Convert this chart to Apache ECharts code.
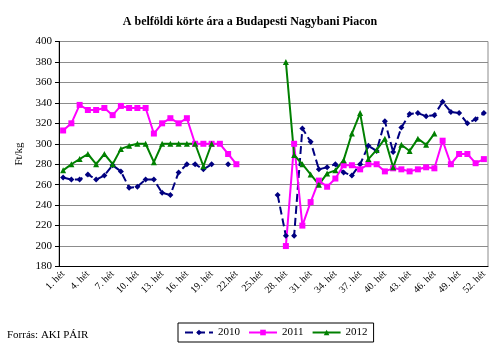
<!DOCTYPE html>
<html>
<head>
<meta charset="utf-8">
<script src="https://cdn.jsdelivr.net/npm/echarts@6/dist/echarts.min.js"></script>
<style>
  html, body { margin: 0; padding: 0; background: #fff; }
  #chart { width: 500px; height: 349px; }
</style>
</head>
<body>
<div id="chart"></div>
<script>
// Weekly wholesale price of domestic pears (Ft/kg), weeks 1–52
const weeks = [];
for (let w = 1; w <= 52; w++) {
  weeks.push(w === 22 || w === 25 ? w + '.hét' : w + '. hét');
}

const seriesNames = ['2010', '2011', '2012'];

const price2010 = [
  267, 265, 265, 270, 265, 269, 279, 273, 257, 258,
  265, 265, 252, 250, 272, 280, 280, 275, 280, null,
  280, null, null, null, null, null, 250, 210, 210, 315,
  302, 275, 277, 280, 272, 269, 280, 298, 293, 322,
  292, 316, 329, 330, 327, 328, 341, 331, 330, 320,
  324, 330
];

const price2011 = [
  313, 320, 338, 333, 333, 335, 328, 337, 335, 335,
  335, 310, 320, 325, 320, 325, 300, 300, 300, 300,
  290, 280, null, null, null, null, null, 200, 300, 220,
  243, 264, 258, 266, 279, 279, 275, 280, 280, 273,
  276, 275, 273, 275, 277, 276, 303, 280, 290, 290,
  281, 285
];

const price2012 = [
  274, 280, 285, 290, 280, 290, 280, 295, 298, 300,
  300, 282, 300, 300, 300, 300, 300, 278, 300, null,
  null, null, null, null, null, null, null, 380, 289, 280,
  270, 260, 271, 274, 284, 310, 330, 285, 294, 305,
  277, 299, 293, 305, 299, 310, null, null, null, null,
  null, null
];

const serif = 'Liberation Serif, Times New Roman, serif';

const chart = echarts.init(document.getElementById('chart'), null, { renderer: 'canvas' });

chart.setOption({
  animation: false,
  backgroundColor: '#fff',
  title: {
    text: 'A belföldi körte ára a Budapesti Nagybani Piacon',
    left: 'center',
    top: 11,
    textStyle: { fontFamily: serif, fontSize: 12, fontWeight: 'bold', color: '#000' }
  },
  grid: {
    left: 59, right: 12, top: 41.5, bottom: 82.5,
    show: true, borderColor: '#8c8c8c', borderWidth: 1
  },
  legend: {
    data: seriesNames,
    left: 178, top: 323,
    orient: 'horizontal',
    borderColor: '#000', borderWidth: 1,
    padding: [4, 6, 4, 6],
    itemGap: 8,
    itemWidth: 28, itemHeight: 7,
    textStyle: { fontFamily: serif, fontSize: 11, color: '#000' }
  },
  xAxis: {
    type: 'category',
    data: weeks,
    boundaryGap: true,
    axisLine: { lineStyle: { color: '#000', width: 1 } },
    axisTick: { interval: 0, length: 4, lineStyle: { color: '#000' } },
    axisLabel: {
      interval: 2, rotate: 45, margin: 6,
      fontFamily: serif, fontSize: 10, color: '#000'
    },
    splitLine: { show: false }
  },
  yAxis: {
    type: 'value',
    min: 180, max: 400, interval: 20,
    name: 'Ft/kg',
    nameLocation: 'middle',
    nameRotate: 90,
    nameGap: 28,
    nameTextStyle: { fontFamily: serif, fontSize: 11, color: '#000' },
    axisLine: { show: true, lineStyle: { color: '#000', width: 1 } },
    axisTick: { show: true, length: 4, lineStyle: { color: '#000' } },
    axisLabel: { margin: 7, fontFamily: serif, fontSize: 11, color: '#000' },
    splitLine: { lineStyle: { color: '#8c8c8c', width: 1 } }
  },
  graphic: [{
    type: 'text',
    left: 7, top: 330,
    style: { text: 'Forrás: AKI PÁIR', font: '11px ' + serif, fill: '#000' }
  }],
  series: [
    {
      name: seriesNames[0], type: 'line', data: price2010,
      connectNulls: false, showAllSymbol: true,
      symbol: 'diamond', symbolSize: 6,
      lineStyle: { color: '#000080', width: 2, type: [8, 4] },
      itemStyle: { color: '#000080' }
    },
    {
      name: seriesNames[1], type: 'line', data: price2011,
      connectNulls: false, showAllSymbol: true,
      symbol: 'rect', symbolSize: 6,
      lineStyle: { color: '#ff00ff', width: 2 },
      itemStyle: { color: '#ff00ff' }
    },
    {
      name: seriesNames[2], type: 'line', data: price2012,
      connectNulls: false, showAllSymbol: true,
      symbol: 'triangle', symbolSize: 6,
      lineStyle: { color: '#008000', width: 2 },
      itemStyle: { color: '#008000' }
    }
  ]
});
</script>
</body>
</html>
